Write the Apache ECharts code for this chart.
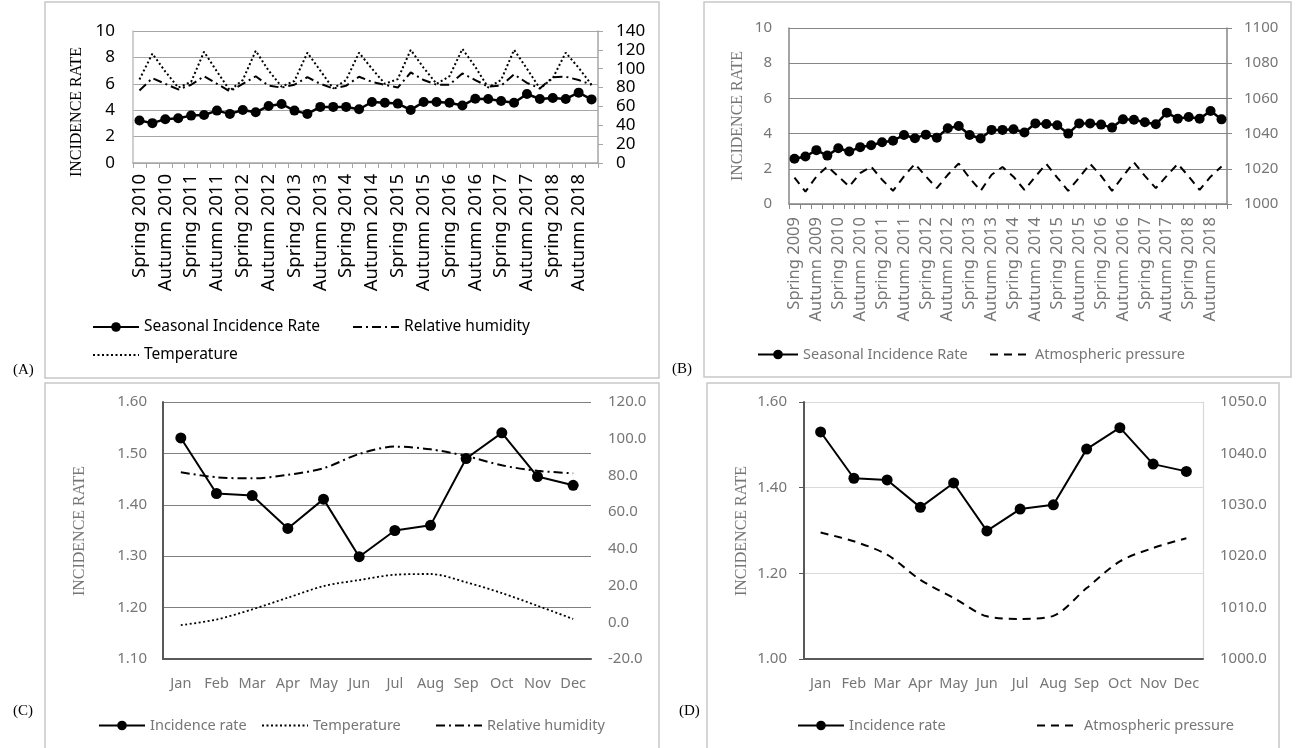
<!DOCTYPE html>
<html><head><meta charset="utf-8">
<script src="https://cdn.jsdelivr.net/npm/echarts@6/dist/echarts.min.js"></script>
<style>html,body{margin:0;padding:0;background:#fff}#c{width:1298px;height:748px}</style>
</head><body><div id="c"></div>
<script>
// ---------- DATA ----------
const seasonsA = ["Spring 2010","Summer 2010","Autumn 2010","Winter 2010","Spring 2011","Summer 2011","Autumn 2011","Winter 2011","Spring 2012","Summer 2012","Autumn 2012","Winter 2012","Spring 2013","Summer 2013","Autumn 2013","Winter 2013","Spring 2014","Summer 2014","Autumn 2014","Winter 2014","Spring 2015","Summer 2015","Autumn 2015","Winter 2015","Spring 2016","Summer 2016","Autumn 2016","Winter 2016","Spring 2017","Summer 2017","Autumn 2017","Winter 2017","Spring 2018","Summer 2018","Autumn 2018","Winter 2018"];
const incidenceA = [3.22,3.02,3.32,3.39,3.59,3.64,3.97,3.72,4.02,3.84,4.32,4.47,3.97,3.72,4.25,4.25,4.25,4.07,4.62,4.57,4.50,4.02,4.62,4.62,4.57,4.35,4.87,4.85,4.70,4.57,5.23,4.85,4.92,4.85,5.33,4.82];
const temperatureA = [88.6,116,97,80,86,118,97,77,88,119,98,81,87,117,98,79,88,117,100,84,89,120,101,84,92,121,102,80,88,120,100,79,90,117,101,83];
const humidityA = [77,90,84,78,83,92,84,76,84,92,82,80,83,91,84,79,82,91.5,86,83,80,96,88,83,83,95,88,81,82,94,85,79,91,91.5,88,83];

const seasonsB = ["Spring 2009","Summer 2009","Autumn 2009","Winter 2009","Spring 2010","Summer 2010","Autumn 2010","Winter 2010","Spring 2011","Summer 2011","Autumn 2011","Winter 2011","Spring 2012","Summer 2012","Autumn 2012","Winter 2012","Spring 2013","Summer 2013","Autumn 2013","Winter 2013","Spring 2014","Summer 2014","Autumn 2014","Winter 2014","Spring 2015","Summer 2015","Autumn 2015","Winter 2015","Spring 2016","Summer 2016","Autumn 2016","Winter 2016","Spring 2017","Summer 2017","Autumn 2017","Winter 2017","Spring 2018","Summer 2018","Autumn 2018","Winter 2018"];
const incidenceB = [2.57,2.70,3.06,2.75,3.17,2.98,3.23,3.34,3.51,3.60,3.92,3.74,3.94,3.77,4.30,4.43,3.92,3.72,4.21,4.21,4.25,4.06,4.58,4.55,4.47,4.00,4.58,4.58,4.51,4.34,4.81,4.79,4.64,4.53,5.19,4.85,4.94,4.85,5.28,4.81];
const pressureB = [1015,1007,1015.6,1021.3,1015.7,1010,1017.5,1021.3,1013.8,1007.5,1015.7,1022.8,1015.7,1009,1016.6,1023,1014.7,1007.5,1016.6,1021,1015.5,1008,1015.6,1022.8,1015,1007.5,1015,1022.8,1016,1007.5,1015.7,1023.6,1016,1009,1016,1022.8,1015.7,1008,1015.5,1021.3];

const months = ["Jan","Feb","Mar","Apr","May","Jun","Jul","Aug","Sep","Oct","Nov","Dec"];
const incidenceMonthly = [1.530,1.422,1.418,1.354,1.411,1.299,1.350,1.360,1.490,1.540,1.455,1.438];
const temperatureMonthly = [-1.6,1.5,7.0,13.4,19.7,23.0,25.9,26.3,21.8,15.9,9.0,1.8];
const humidityMonthly = [81.7,79.0,78.4,80.3,83.9,91.7,95.7,94.2,90.6,85.5,82.5,81.2];
const pressureMonthly = [1024.6,1022.9,1020.3,1015.4,1011.9,1008.3,1007.8,1008.4,1013.8,1019.0,1021.6,1023.5];

// ---------- STYLE ----------
const SANS = '"Noto Sans", "Open Sans", sans-serif';
const SERIF = '"Liberation Serif", "DejaVu Serif", serif';
const GREY = '#767676';
const DOT = [2, 2.5];
const DASHDOT = [9, 4, 2, 4];
const DASH = [8, 6];

function yAx(g, pos, min, max, step, o) {
  return Object.assign({
    type: 'value', gridIndex: g, position: pos, min: min, max: max, interval: step,
    axisLabel: { fontFamily: SANS, fontSize: 15, color: GREY, margin: 17, formatter: v => String(v) },
    axisLine: { show: false }, axisTick: { show: false }, splitLine: { show: false }
  }, o || {});
}
function leg(left, top, name, color, size, w, hideSym) {
  const l = { left: left, top: top, data: [name], itemWidth: w, itemHeight: 12, itemGap: 5, selectedMode: false,
    textStyle: { fontFamily: SANS, fontSize: size, color: color } };
  if (hideSym) l.itemStyle = { opacity: 0 };
  return l;
}

const option = {
  animation: false,
  backgroundColor: '#fff',
  grid: [
    { left: 133, top: 31, width: 465, height: 132 },
    { left: 789, top: 28, width: 438, height: 176 },
    { left: 163, top: 402, width: 428, height: 257 },
    { left: 804, top: 402, width: 399, height: 257 }
  ],
  xAxis: [
    { type: 'category', gridIndex: 0, data: seasonsA, boundaryGap: true,
      axisLine: { onZero: false, lineStyle: { color: '#a6a6a6', width: 1.5 } },
      axisTick: { show: true, interval: 0, length: 5, lineStyle: { color: '#a6a6a6' } },
      axisLabel: { interval: 1, rotate: 90, fontFamily: SANS, fontSize: 18.5, color: '#000', margin: 11 } },
    { type: 'category', gridIndex: 1, data: seasonsB, boundaryGap: true,
      axisLine: { onZero: false, lineStyle: { color: '#868686', width: 1.5 } },
      axisTick: { show: true, interval: 0, length: 5, lineStyle: { color: '#868686' } },
      axisLabel: { interval: 1, rotate: 90, fontFamily: SANS, fontSize: 16.5, color: GREY, margin: 13 } },
    { type: 'category', gridIndex: 2, data: months, boundaryGap: true,
      axisLine: { onZero: false, lineStyle: { color: '#595959', width: 2 } }, axisTick: { show: false },
      axisLabel: { interval: 0, fontFamily: SANS, fontSize: 14.5, color: GREY, margin: 17 } },
    { type: 'category', gridIndex: 3, data: months, boundaryGap: true,
      axisLine: { onZero: false, lineStyle: { color: '#595959', width: 2 } }, axisTick: { show: false },
      axisLabel: { interval: 0, fontFamily: SANS, fontSize: 14.5, color: GREY, margin: 17 } }
  ],
  yAxis: [
    yAx(0, 'left', 0, 10, 2, {
      axisLabel: { fontFamily: SANS, fontSize: 17, color: '#000', margin: 18 },
      axisLine: { show: true, lineStyle: { color: '#bfbfbf', width: 1.5 } },
      splitLine: { show: true, lineStyle: { color: '#a6a6a6', width: 1.2 } } }),
    yAx(0, 'right', 0, 140, 20, {
      axisLabel: { fontFamily: SANS, fontSize: 17, color: '#000', margin: 18 },
      axisLine: { show: true, lineStyle: { color: '#a6a6a6', width: 1.5 } },
      axisTick: { show: true, length: 5, lineStyle: { color: '#a6a6a6' } } }),
    yAx(1, 'left', 0, 10, 2, {
      axisLine: { show: true, lineStyle: { color: '#868686', width: 1.5 } },
      splitLine: { show: true, lineStyle: { color: '#868686', width: 1.2 } } }),
    yAx(1, 'right', 1000, 1100, 20, {
      axisLine: { show: true, lineStyle: { color: '#868686', width: 1.5 } },
      axisTick: { show: true, length: 5, lineStyle: { color: '#868686' } } }),
    yAx(2, 'left', 1.1, 1.6, 0.1, {
      axisLabel: { fontFamily: SANS, fontSize: 15, color: GREY, margin: 16, formatter: v => v.toFixed(2) },
      axisLine: { show: true, lineStyle: { color: '#595959', width: 2 } },
      splitLine: { show: true, lineStyle: { color: '#7f7f7f', width: 1.2 } } }),
    yAx(2, 'right', -20, 120, 20, {
      axisLabel: { fontFamily: SANS, fontSize: 15, color: GREY, margin: 17, formatter: v => v.toFixed(1) } }),
    yAx(3, 'left', 1.0, 1.6, 0.2, {
      axisLabel: { fontFamily: SANS, fontSize: 15, color: GREY, margin: 17, formatter: v => v.toFixed(2) },
      axisLine: { show: true, lineStyle: { color: '#595959', width: 2 } },
      axisTick: { show: true, length: 5, lineStyle: { color: '#595959' } },
      splitLine: { show: true, lineStyle: { color: '#d9d9d9', width: 1.2 } } }),
    yAx(3, 'right', 1000, 1050, 10, {
      axisLabel: { fontFamily: SANS, fontSize: 15, color: GREY, margin: 17, formatter: v => v.toFixed(1) },
      axisLine: { show: true, lineStyle: { color: '#d9d9d9', width: 1.2 } } })
  ],
  legend: [
    leg(87, 314, 'Seasonal Incidence Rate', '#000', 15.5, 46, false),
    leg(347, 314, 'Relative humidity', '#000', 15.5, 46, true),
    leg(87, 342, 'Temperature', '#000', 15.5, 46, true),
    leg(752, 342, 'Seasonal Incidence Rate ', GREY, 14.5, 40, false),
    leg(984, 342, 'Atmospheric pressure', GREY, 14.5, 40, true),
    leg(93, 713, 'Incidence rate', GREY, 14.5, 46, false),
    leg(256, 713, 'Temperature ', GREY, 14.5, 46, true),
    leg(430, 713, 'Relative humidity ', GREY, 14.5, 46, true),
    leg(792, 713, 'Incidence rate ', GREY, 14.5, 46, false),
    leg(1031, 713, 'Atmospheric pressure ', GREY, 14.5, 42, true)
  ],
  series: [
    { name: 'Seasonal Incidence Rate', type: 'line', xAxisIndex: 0, yAxisIndex: 0, data: incidenceA, showAllSymbol: true,
      symbol: 'circle', symbolSize: 10, itemStyle: { color: '#000' }, lineStyle: { color: '#000', width: 2.5 }, z: 5 },
    { name: 'Relative humidity', type: 'line', xAxisIndex: 0, yAxisIndex: 1, data: humidityA,
      symbol: 'none', itemStyle: { color: '#000' }, lineStyle: { color: '#000', width: 2, type: DASHDOT } },
    { name: 'Temperature', type: 'line', xAxisIndex: 0, yAxisIndex: 1, data: temperatureA,
      symbol: 'none', itemStyle: { color: '#000' }, lineStyle: { color: '#000', width: 2, type: DOT } },

    { name: 'Seasonal Incidence Rate ', type: 'line', xAxisIndex: 1, yAxisIndex: 2, data: incidenceB, showAllSymbol: true,
      symbol: 'circle', symbolSize: 10, itemStyle: { color: '#000' }, lineStyle: { color: '#000', width: 2.5 }, z: 5 },
    { name: 'Atmospheric pressure', type: 'line', xAxisIndex: 1, yAxisIndex: 3, data: pressureB,
      symbol: 'none', itemStyle: { color: '#000' }, lineStyle: { color: '#000', width: 2, type: DASH } },

    { name: 'Incidence rate', type: 'line', xAxisIndex: 2, yAxisIndex: 4, data: incidenceMonthly, showAllSymbol: true,
      symbol: 'circle', symbolSize: 11, itemStyle: { color: '#000' }, lineStyle: { color: '#000', width: 2 }, z: 5 },
    { name: 'Temperature ', type: 'line', xAxisIndex: 2, yAxisIndex: 5, data: temperatureMonthly, smooth: 0.3,
      symbol: 'none', itemStyle: { color: '#000' }, lineStyle: { color: '#000', width: 1.8, type: DOT } },
    { name: 'Relative humidity ', type: 'line', xAxisIndex: 2, yAxisIndex: 5, data: humidityMonthly, smooth: 0.3,
      symbol: 'none', itemStyle: { color: '#000' }, lineStyle: { color: '#000', width: 2, type: DASHDOT } },

    { name: 'Incidence rate ', type: 'line', xAxisIndex: 3, yAxisIndex: 6, data: incidenceMonthly, showAllSymbol: true,
      symbol: 'circle', symbolSize: 11, itemStyle: { color: '#000' }, lineStyle: { color: '#000', width: 2 }, z: 5 },
    { name: 'Atmospheric pressure ', type: 'line', xAxisIndex: 3, yAxisIndex: 7, data: pressureMonthly, smooth: 0.3,
      symbol: 'none', itemStyle: { color: '#000' }, lineStyle: { color: '#000', width: 2, type: DASH } }
  ],
  graphic: [
    { type: 'rect', shape: { x: 45, y: 2, width: 614, height: 376 }, style: { fill: 'none', stroke: '#c8c8c8', lineWidth: 1.5 }, silent: true },
    { type: 'rect', shape: { x: 704, y: 2, width: 587, height: 375 }, style: { fill: 'none', stroke: '#c8c8c8', lineWidth: 1.5 }, silent: true },
    { type: 'rect', shape: { x: 45, y: 383, width: 614, height: 366 }, style: { fill: 'none', stroke: '#c8c8c8', lineWidth: 1.5 }, silent: true },
    { type: 'rect', shape: { x: 707, y: 383, width: 572, height: 366 }, style: { fill: 'none', stroke: '#c8c8c8', lineWidth: 1.5 }, silent: true },
    { type: 'text', x: 77, y: 112, rotation: Math.PI / 2, style: { text: 'INCIDENCE RATE', font: '16px ' + SERIF, fill: '#000', textAlign: 'center', textVerticalAlign: 'middle' } },
    { type: 'text', x: 738, y: 116, rotation: Math.PI / 2, style: { text: 'INCIDENCE RATE', font: '16px ' + SERIF, fill: GREY, textAlign: 'center', textVerticalAlign: 'middle' } },
    { type: 'text', x: 80, y: 531, rotation: Math.PI / 2, style: { text: 'INCIDENCE RATE', font: '16px ' + SERIF, fill: GREY, textAlign: 'center', textVerticalAlign: 'middle' } },
    { type: 'text', x: 742, y: 531, rotation: Math.PI / 2, style: { text: 'INCIDENCE RATE', font: '16px ' + SERIF, fill: GREY, textAlign: 'center', textVerticalAlign: 'middle' } },
    { type: 'text', x: 13, y: 370, style: { text: '(A)', font: '15px ' + SERIF, fill: '#000', textVerticalAlign: 'middle' } },
    { type: 'text', x: 672, y: 369, style: { text: '(B)', font: '15px ' + SERIF, fill: '#000', textVerticalAlign: 'middle' } },
    { type: 'text', x: 13, y: 711, style: { text: '(C)', font: '15px ' + SERIF, fill: '#000', textVerticalAlign: 'middle' } },
    { type: 'text', x: 679, y: 711, style: { text: '(D)', font: '15px ' + SERIF, fill: '#000', textVerticalAlign: 'middle' } }
  ]
};
const chart = echarts.init(document.getElementById('c'), null, { renderer: 'canvas' });
chart.setOption(option);
</script>
</body></html>
